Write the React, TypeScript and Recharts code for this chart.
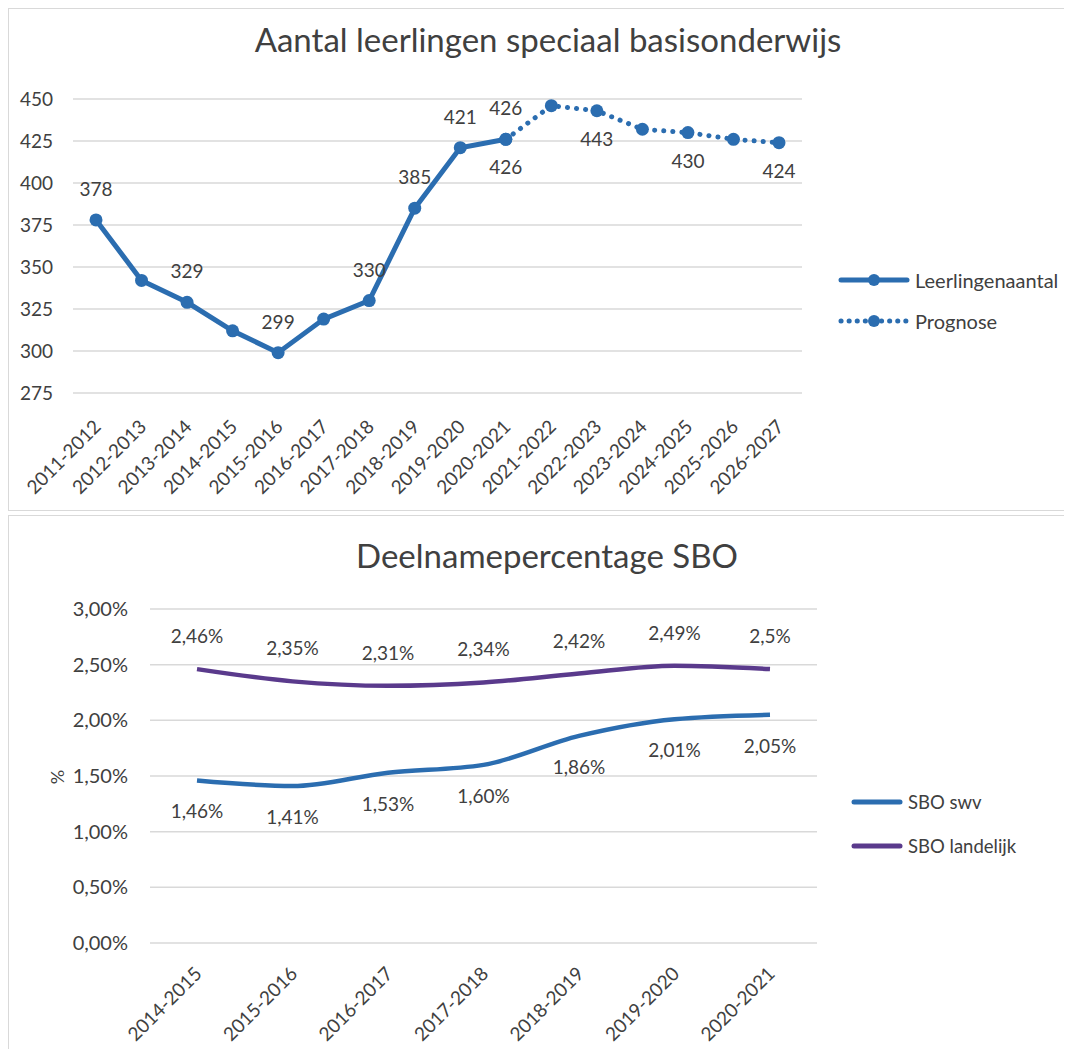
import React from "react";
import { LineChart, Line, XAxis, YAxis, CartesianGrid, LabelList } from "recharts";

const schooljarenTop = [
  "2011-2012", "2012-2013", "2013-2014", "2014-2015", "2015-2016", "2016-2017",
  "2017-2018", "2018-2019", "2019-2020", "2020-2021", "2021-2022", "2022-2023",
  "2023-2024", "2024-2025", "2025-2026", "2026-2027",
];
const leerlingenaantal = [378, 342, 329, 312, 299, 319, 330, 385, 421, 426, null, null, null, null, null, null];
const prognose = [null, null, null, null, null, null, null, null, null, 426, 446, 443, 432, 430, 426, 424];
const labelsLeerlingen = ["378", "", "329", "", "299", "", "330", "385", "421", "426", "", "", "", "", "", ""];
const labelsPrognose = ["", "", "", "", "", "", "", "", "", "426", "", "443", "", "430", "", "424"];
const ticksTop = [275, 300, 325, 350, 375, 400, 425, 450];

const schooljarenBottom = ["2014-2015", "2015-2016", "2016-2017", "2017-2018", "2018-2019", "2019-2020", "2020-2021"];
const sboSwv = [1.46, 1.41, 1.53, 1.6, 1.86, 2.01, 2.05];
const sboLandelijk = [2.46, 2.35, 2.31, 2.34, 2.42, 2.49, 2.46];
const labelsSwv = ["1,46%", "1,41%", "1,53%", "1,60%", "1,86%", "2,01%", "2,05%"];
const labelsLandelijk = ["2,46%", "2,35%", "2,31%", "2,34%", "2,42%", "2,49%", "2,5%"];
const ticksBottom = [0, 0.5, 1, 1.5, 2, 2.5, 3];

const FONT = "Lato, 'Open Sans', sans-serif";
const TEXT = "#404040";
const GRID = "#d9d9d9";
const BLUE = "#2b6db0";
const PURPLE = "#5a3a8c";

const topData = schooljarenTop.map((s, i) => ({
  jaar: s,
  leerlingen: leerlingenaantal[i],
  prognose: prognose[i],
  lblL: labelsLeerlingen[i],
  lblP: labelsPrognose[i],
}));

const bottomData = schooljarenBottom.map((s, i) => ({
  jaar: s,
  swv: sboSwv[i],
  landelijk: sboLandelijk[i],
  lblS: labelsSwv[i],
  lblN: labelsLandelijk[i],
}));

const pointLabel = (dy: number, size: number) => (props: any) => {
  const vb = props.viewBox || {};
  const x = props.x ?? vb.x;
  const y = props.y ?? vb.y;
  if (!props.value || x == null || y == null) return null;
  return (
    <text x={x} y={y + dy} textAnchor="middle" fontSize={size} fill={TEXT} fontFamily={FONT}>
      {props.value}
    </text>
  );
};

const RotatedTick = (dx: number, dy: number, size: number) => (props: any) => {
  const { x, y, payload } = props;
  const ax = x + dx;
  const ay = y + dy;
  return (
    <text x={ax} y={ay} textAnchor="end" fontSize={size} fill={TEXT} fontFamily={FONT}
      transform={`rotate(-45, ${ax}, ${ay})`}>
      {payload.value}
    </text>
  );
};

const pct = (v: number) => v.toFixed(2).replace(".", ",") + "%";

const LegendRow = ({ color, dotted, dot, width, label, size, h }: any) => (
  <div style={{ display: "flex", alignItems: "center", height: h }}>
    <svg width={width} height={20} style={{ display: "block" }}>
      <line x1={3} y1={10} x2={width - 3} y2={10} stroke={color} strokeWidth={5}
        strokeLinecap="round" strokeDasharray={dotted ? "0.1 8" : undefined} />
      {dot && <circle cx={width / 2} cy={10} r={6} fill={color} />}
    </svg>
    <span style={{ marginLeft: 5, fontSize: size, color: TEXT, fontFamily: FONT }}>{label}</span>
  </div>
);

export default function App() {
  return (
    <div style={{ position: "relative", width: 1064, height: 1041, overflow: "hidden", fontFamily: FONT }}>
      {/* bovenste grafiek */}
      <div style={{ position: "absolute", left: 0, top: 0, width: 1064, height: 503, boxSizing: "border-box",
        borderLeft: `1px solid ${GRID}`, borderTop: `1px solid ${GRID}`, borderBottom: `1px solid ${GRID}` }}>
        <div style={{ position: "absolute", left: 0, top: 0 }}>
          <LineChart width={1063} height={502} data={topData} margin={{ top: 90, right: 270, bottom: 0, left: 0 }}>
            <CartesianGrid vertical={false} stroke={GRID} strokeWidth={1.5} />
            <XAxis dataKey="jaar" interval={0} axisLine={false} tickLine={false} tickSize={0} height={118}
              padding={{ left: 23, right: 23 }} tick={RotatedTick(6, 33, 19)} />
            <YAxis domain={[275, 450]} ticks={ticksTop} width={64} axisLine={false} tickLine={false}
              tickSize={0} tickMargin={20} tick={{ fontSize: 19, fill: TEXT, fontFamily: FONT }} />
            <Line dataKey="leerlingen" type="linear" stroke={BLUE} strokeWidth={5}
              dot={{ r: 6.5, fill: BLUE, stroke: BLUE, strokeWidth: 0 }} isAnimationActive={false}>
              <LabelList dataKey="lblL" content={pointLabel(-24, 19)} />
            </Line>
            <Line dataKey="prognose" type="linear" stroke={BLUE} strokeWidth={5} strokeDasharray="0.1 9"
              strokeLinecap="round" dot={{ r: 6.5, fill: BLUE, stroke: BLUE, strokeWidth: 0, strokeDasharray: "" }}
              isAnimationActive={false}>
              <LabelList dataKey="lblP" content={pointLabel(35, 19)} />
            </Line>
          </LineChart>
        </div>
      </div>
      <div style={{ position: "absolute", left: 8, top: 15, width: 1064, textAlign: "center", fontSize: 33,
        lineHeight: "33px", color: TEXT }}>
        Aantal leerlingen speciaal basisonderwijs
      </div>
      <div style={{ position: "absolute", left: 830, top: 251 }}>
        <LegendRow color={BLUE} dot width={72} h={41} label="Leerlingenaantal" size={20} />
        <LegendRow color={BLUE} dot dotted width={72} h={41} label="Prognose" size={20} />
      </div>

      {/* onderste grafiek */}
      <div style={{ position: "absolute", left: 0, top: 507, width: 1064, height: 534, boxSizing: "border-box",
        borderLeft: `1px solid ${GRID}`, borderTop: `1px solid ${GRID}` }}>
        <div style={{ position: "absolute", left: 0, top: 0 }}>
          <LineChart width={1063} height={533} data={bottomData} margin={{ top: 93, right: 255, bottom: 0, left: 0 }}>
            <CartesianGrid vertical={false} stroke={GRID} strokeWidth={1.5} />
            <XAxis dataKey="jaar" interval={0} axisLine={false} tickLine={false} tickSize={0} height={106}
              padding={{ left: 47, right: 47 }} tick={RotatedTick(6, 30, 19)} />
            <YAxis domain={[0, 3]} ticks={ticksBottom} width={141} axisLine={false} tickLine={false}
              tickSize={0} tickMargin={22} tickFormatter={pct}
              tick={{ fontSize: 20, fill: TEXT, fontFamily: FONT }} />
            <Line dataKey="swv" type="monotone" stroke={BLUE} strokeWidth={4.5} dot={false} isAnimationActive={false}>
              <LabelList dataKey="lblS" content={pointLabel(38, 19)} />
            </Line>
            <Line dataKey="landelijk" type="monotone" stroke={PURPLE} strokeWidth={4.5} dot={false} isAnimationActive={false}>
              <LabelList dataKey="lblN" content={pointLabel(-26, 19)} />
            </Line>
          </LineChart>
        </div>
      </div>
      <div style={{ position: "absolute", left: 7, top: 531, width: 1064, textAlign: "center", fontSize: 33,
        lineHeight: "33px", color: TEXT }}>
        Deelnamepercentage SBO
      </div>
      <div style={{ position: "absolute", left: 40, top: 759, width: 18, height: 20, transform: "rotate(-90deg)",
        fontSize: 18, color: TEXT, textAlign: "center", lineHeight: "20px" }}>
        %
      </div>
      <div style={{ position: "absolute", left: 843, top: 772 }}>
        <LegendRow color={BLUE} width={52} h={44} label="SBO swv" size={18.5} />
        <LegendRow color={PURPLE} width={52} h={44} label="SBO landelijk" size={18.5} />
      </div>
    </div>
  );
}
